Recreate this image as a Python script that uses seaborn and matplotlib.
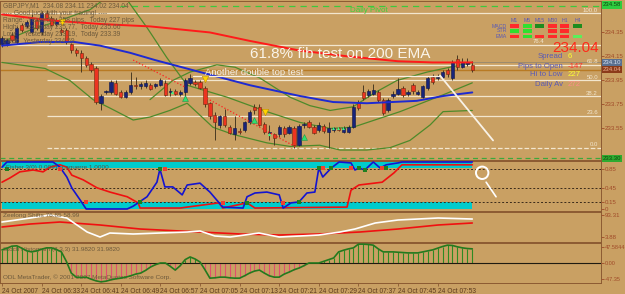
import matplotlib
matplotlib.use("Agg")
import matplotlib.pyplot as plt
import matplotlib.transforms as mtransforms
from matplotlib.patches import Rectangle
import numpy as np
import pandas as pd
import seaborn as sns

# ---------------- data (GBPJPY, M1) ----------------
bar_open = [234.25, 234.25, 234.33, 234.27, 234.41, 234.40, 234.35, 234.45, 234.35, 234.51,
            234.47, 234.42, 234.37, 234.37, 234.25, 234.20, 234.18, 234.14, 234.09, 234.05,
            233.76, 233.85, 233.85, 233.93, 233.85, 233.81, 233.85, 233.91, 233.90, 233.90,
            233.91, 233.90, 233.91, 233.93, 233.85, 233.86, 233.84, 233.85, 233.93, 233.94,
            233.94, 233.89, 233.76, 233.66, 233.58, 233.65, 233.56, 233.50, 233.53, 233.54,
            233.60, 233.73, 233.73, 233.59, 233.51, 233.50, 233.50, 233.55, 233.51, 233.55,
            233.41, 233.58, 233.60, 233.56, 233.54, 233.57, 233.52, 233.54, 233.55, 233.52,
            233.52, 233.56, 233.76, 233.85, 233.83, 233.84, 233.85, 233.79, 233.70, 233.82,
            233.84, 233.89, 233.84, 233.91, 233.84, 233.81, 233.89, 233.98, 233.97, 233.98,
            234.04, 233.97, 234.13, 234.06, 234.09, 234.08]
bar_close = [234.30, 234.29, 234.29, 234.39, 234.37, 234.44, 234.47, 234.39, 234.51, 234.47,
             234.41, 234.45, 234.35, 234.27, 234.20, 234.18, 234.14, 234.08, 234.04, 233.77,
             233.82, 233.86, 233.94, 233.84, 233.81, 233.85, 233.91, 233.90, 233.92, 233.93,
             233.88, 233.92, 233.95, 233.83, 233.86, 233.84, 233.85, 233.95, 233.97, 233.92,
             233.89, 233.75, 233.65, 233.60, 233.65, 233.58, 233.51, 233.55, 233.52, 233.60,
             233.69, 233.70, 233.58, 233.52, 233.52, 233.47, 233.56, 233.50, 233.56, 233.41,
             233.57, 233.59, 233.56, 233.51, 233.58, 233.53, 233.55, 233.55, 233.54, 233.55,
             233.56, 233.73, 233.72, 233.80, 233.86, 233.87, 233.79, 233.68, 233.79, 233.84,
             233.88, 233.83, 233.85, 233.86, 233.85, 233.90, 233.97, 233.94, 233.98, 234.02,
             234.00, 234.10, 234.06, 234.10, 234.10, 234.04]
bar_high = [234.32, 234.30, 234.35, 234.40, 234.43, 234.45, 234.50, 234.47, 234.53, 234.54,
            234.49, 234.47, 234.39, 234.39, 234.26, 234.22, 234.20, 234.15, 234.10, 234.07,
            233.84, 233.87, 233.95, 233.95, 233.87, 233.87, 234.02, 233.98, 233.94, 233.95,
            233.93, 233.93, 233.97, 233.95, 233.89, 233.88, 233.87, 233.97, 234.00, 233.95,
            233.95, 233.90, 233.77, 233.69, 233.66, 233.71, 233.58, 233.65, 233.55, 233.61,
            233.70, 233.75, 233.75, 233.60, 233.58, 233.51, 233.58, 233.57, 233.58, 233.57,
            233.59, 233.60, 233.62, 233.58, 233.60, 233.59, 233.60, 233.56, 233.56, 233.57,
            233.58, 233.75, 233.79, 233.91, 233.88, 233.92, 233.87, 233.80, 233.80, 233.86,
            233.97, 233.90, 233.87, 233.93, 233.87, 233.91, 233.99, 234.00, 234.00, 234.04,
            234.05, 234.12, 234.16, 234.14, 234.14, 234.11]
bar_low = [234.23, 234.24, 234.27, 234.25, 234.35, 234.39, 234.34, 234.37, 234.33, 234.45,
           234.40, 234.40, 234.33, 234.25, 234.18, 234.15, 234.02, 234.06, 234.02, 233.75,
           233.70, 233.84, 233.84, 233.83, 233.80, 233.80, 233.84, 233.88, 233.88, 233.89,
           233.87, 233.89, 233.90, 233.82, 233.82, 233.83, 233.82, 233.82, 233.91, 233.90,
           233.88, 233.73, 233.63, 233.45, 233.55, 233.56, 233.50, 233.45, 233.50, 233.52,
           233.59, 233.67, 233.57, 233.50, 233.45, 233.41, 233.48, 233.48, 233.50, 233.39,
           233.40, 233.55, 233.55, 233.50, 233.52, 233.51, 233.39, 233.52, 233.53, 233.51,
           233.51, 233.55, 233.70, 233.79, 233.81, 233.83, 233.77, 233.66, 233.69, 233.80,
           233.83, 233.81, 233.82, 233.84, 233.83, 233.80, 233.87, 233.92, 233.95, 233.96,
           233.98, 233.95, 234.04, 234.05, 234.07, 234.02]

time_label_bars = [0, 8, 16, 24, 32, 40, 48, 56, 64, 72, 80, 88]
time_labels = ["24 Oct 2007", "24 Oct 06:33", "24 Oct 06:41", "24 Oct 06:49", "24 Oct 06:57",
               "24 Oct 07:05", "24 Oct 07:13", "24 Oct 07:21", "24 Oct 07:29", "24 Oct 07:37",
               "24 Oct 07:45", "24 Oct 07:53"]

# moving averages / envelopes (bar index, price)
ema200_bar = [0, 10, 20, 30, 42, 50, 60, 70, 80, 87, 95]
ema200_val = [234.50, 234.45, 234.42, 234.40, 234.35, 234.28, 234.20, 234.15, 234.11, 234.10, 234.10]
ma_blue_bar = [0, 7.7, 14.7, 19.8, 25.9, 30.9, 40, 50.1, 60.2, 66.9, 73.7, 83.8, 89.1, 95]
ma_blue_val = [234.24, 234.27, 234.27, 234.24, 234.18, 234.12, 234.02, 233.91, 233.82, 233.77,
               233.76, 233.78, 233.82, 233.85]
band_a_bar = [0, 5.7, 11.7, 17.8, 21.4, 25.3, 29.3, 33.3, 37.4, 45.5, 53.5, 60.2, 66.3, 70.9, 80.4, 89.1, 95]
band_a_val = [234.27, 234.37, 234.45, 234.54, 234.65, 234.62, 234.39, 234.14, 233.91, 233.81,
              233.69, 233.60, 233.55, 233.56, 233.69, 233.83, 233.93]
band_b_bar = [29.9, 34.5, 38, 43.4, 47.1, 52.1, 58.2, 62.2, 66.3, 70.9, 75.4, 79.8, 85.9, 95]
band_b_val = [233.79, 233.95, 234.02, 234.08, 234.06, 233.97, 233.81, 233.74, 233.70, 233.73,
              233.85, 233.95, 234.02, 234.10]
band_c_bar = [0, 8.7, 13.7, 18.4, 21.8, 26.5, 29.9, 33.9, 37.4, 40, 42.6, 46.7, 53.5, 58.2,
              64.2, 68.3, 73.7, 78.4, 82.4, 86.5, 89.1, 95]
band_c_val = [234.10, 234.05, 233.95, 233.79, 233.72, 233.62, 233.645, 233.70, 233.76, 233.66,
              233.56, 233.50, 233.43, 233.40, 233.41, 233.37, 233.37, 233.39, 233.45, 233.58,
              233.69, 233.70]

fib_levels = [100.0, 76.4, 61.8, 50.0, 38.2, 23.6, 0.0]
fib_low, fib_high = 233.39, 234.51
daily_pivot = 234.57
support_line = 233.30
ask_price, bid_price = 234.10, 234.04

yellow_arrow_bar = [12.1, 41, 53.1]
yellow_arrow_val = [234.44, 233.96, 233.69]
green_arrow_bar = [37, 50.9, 61]
green_arrow_val = [233.80, 233.62, 233.48]
small_arrow_bar = [34.3, 53.9, 66.9, 67.9, 68.9]
small_arrow_val = [233.85, 233.50, 233.55, 233.55, 233.55]

# Laguerre panel
lag_blue_bar = [0, 1, 10.3, 11.7, 13.1, 14.1, 15.8, 17, 25.3, 26.5, 29.3, 31.3, 31.9, 32.9, 34.5,
                36.4, 37.4, 40, 42, 44.6, 48.7, 49.5, 51.1, 53.5, 56, 56.8, 58.4, 60, 61.6, 63.2,
                64, 64.8, 66.5, 68.1, 70.5, 71.3, 72.1, 73.3, 75, 76.4, 77.6, 80, 80.8, 95]
lag_blue_val = [0.89, 1.0, 1.0, 0.89, 0.68, 0.45, 0.19, 0.0, 0.0, 0.06, 0.26, 0.57, 0.85, 0.47, 0.47,
                0.30, 0.51, 0.55, 0.36, 0.04, 0.02, 0.26, 0.34, 0.36, 0.30, 0.02, 0.13, 0.15, 0.34, 0.36,
                0.87, 0.68, 0.87, 1.0, 0.98, 0.83, 0.87, 0.83, 1.0, 0.87, 0.94, 0.98, 1.0, 1.0]
lag_red_bar = [0, 1.6, 3.6, 6.3, 8.3, 9.7, 11.7, 13.1, 14.1, 16.4, 19.2, 21.8, 25.3, 27.5, 27.9,
               36, 37.4, 43.8, 44.6, 49.5, 51.1, 69.7, 70.5, 72.1, 76.8, 79.2, 80.8, 95]
lag_red_val = [0.57, 0.66, 0.79, 0.83, 0.79, 0.89, 0.94, 0.89, 0.72, 0.62, 0.45, 0.36, 0.26, 0.13, 0.02,
               0.02, 0.04, 0.13, 0.02, 0.13, 0.02, 0.04, 0.40, 0.51, 0.57, 0.77, 0.94, 0.94]
lag_levels = [0.85, 0.45, 0.15]
lag_green_dot_bar = [1, 27.9, 31.9, 49.5, 60, 64, 66.5, 72.1, 73.3, 77.6]
lag_green_dot_val = [0.85, 0.15, 0.85, 0.13, 0.15, 0.87, 0.87, 0.87, 0.83, 0.87]
lag_red_dot_bar = [11.7, 17, 33, 44.6, 56.8, 64.9, 70.5, 76.8]
lag_red_dot_val = [0.85, 0.15, 0.85, 0.13, 0.13, 0.87, 0.87, 0.87]

# Zeelong shifts panel
shift_white_bar = [0, 5.7, 9.7, 13.1, 17.2, 19.8, 21.8, 26.5, 31.9, 37.4, 40, 43, 46.1, 51.9, 56,
                   60.2, 64, 68.3, 71.3, 75.4, 80, 88.1, 95]
shift_white_val = [64.8, 81.1, 93.3, 81.1, 24.2, 3.9, 20.1, 16.1, 20.1, 24.2, 28.3, 8.0, 3.9, 20.1, 3.9,
                   8.0, 12.0, 24.2, 36.4, 60.8, 73.0, 81.1, 77.0]
shift_red_bar = [0, 5.7, 11.7, 19.8, 27.9, 40, 48.1, 56, 64, 72.3, 80, 88.1, 95]
shift_red_val = [44.5, 56.7, 64.8, 52.7, 36.4, 24.2, 16.1, 12.0, 16.1, 24.2, 36.4, 52.7, 60.8]

# Stoch histogram panel
stoch_hist = [39, 44, 50, 51, 44, 36, 33, 36, 41, 45, 45, 40, 33, 5, -30, -42, -43, -42, -48, -53,
              -56, -54, -50, -47, -45, -42, -38, -33, -30, -22, -12, -5, 0, 0, -10, -21, -8, 10, 18, 12,
              3, -20, -45, -44, -42, -42, -44, -45, -45, -38, -30, -24, -21, -30, -38, -42, -42, -33, -27, -20,
              -15, -8, 0, 0, 0, 5, 10, 15, 33, 38, 42, 45, 56, 56, 55, 53, 42, 33, 33, 33,
              32, 31, 30, 30, 30, 33, 36, 39, 44, 49, 53, 52, 48, 45, 43, 42]

header_lines = ["GBPJPY,M1  234.08 234.11 234.02 234.04",
                "---- Good luck with your trading! ----",
                "Range:  Yesterday 258 pips,  Today 227 pips",
                "High:   Yesterday 235.77,  Today 235.66",
                "Low:    Yesterday 233.19,  Today 233.39",
                "Pivot:  Yesterday 234.59"]
info_labels = ["Spread", "Pips to Open", "Hi to Low", "Daily Av"]
info_values = ["6", "-147", "227", "272"]
info_value_colors = ["#FFFF30", "#FF3030", "#FFFF30", "#FF8C8C"]
mtf_frames = ["M1", "M5", "M15", "M30", "H1", "H4"]
mtf_rows = ["MACD", "STR", "EMA"]
mtf_states = [["r", "g", "d", "r", "r", "d"],
              ["g", "g", "", "r", "r", ""],
              ["r", "g", "r", "r", "r", "l"]]

# ---------------- style ----------------
BG = "#C9A063"
sns.set_theme(style="dark", rc={"axes.facecolor": BG, "figure.facecolor": BG,
                                "axes.grid": False, "axes.edgecolor": "#8C5A32"})
plt.rcParams["font.family"] = ["Liberation Sans", "DejaVu Sans"]

W, H = 625, 294
fig = plt.figure(figsize=(6.25, 2.94), dpi=100)
fig.patch.set_facecolor(BG)


def axes_px(top, bottom, left=0, right=601):
    return fig.add_axes([left / W, 1 - bottom / H, (right - left) / W, (bottom - top) / H])


def fx(x):
    return x / W


def fy(y):
    return 1 - y / H


ax1 = axes_px(1, 160)
ax2 = axes_px(161, 211)
ax3 = axes_px(212, 242)
ax4 = axes_px(243, 283)
AXCOL = "#A04A28"
for ax in (ax1, ax2, ax3, ax4):
    ax.set_facecolor(BG)
    ax.set_xlim(-0.4, 121.0)
    ax.grid(False)
    for s in ax.spines.values():
        s.set_color("#8C5A32")
        s.set_linewidth(0.7)
    ax.yaxis.tick_right()
    ax.tick_params(axis="y", length=2, width=0.6, pad=1, labelsize=4.4, colors=AXCOL,
                   labelcolor=AXCOL, left=False, right=True)
    ax.tick_params(axis="x", bottom=False, labelbottom=False)
    ax.set_xlabel("")
    ax.set_ylabel("")

n = len(bar_open)
df = pd.DataFrame({"bar": np.arange(n), "open": bar_open, "high": bar_high,
                   "low": bar_low, "close": bar_close})

# ---------------- main panel ----------------
ax1.set_ylim(233.287, 234.612)
price_ticks = [234.35, 234.15, 233.95, 233.75, 233.55]
ax1.set_yticks(price_ticks)
ax1.set_yticklabels([f"{p:.2f}" for p in price_ticks])

blend1 = mtransforms.blended_transform_factory(ax1.transAxes, ax1.transData)
fib_span = fib_high - fib_low
for lvl in fib_levels:
    p = fib_low + lvl / 100 * fib_span
    start = -0.4 if lvl >= 76 else 9.1
    ax1.hlines(p, start, 121.0, colors="#F2E6CE", linewidth=0.9,
               linestyles="--" if lvl == 0 else "-", zorder=1)
    lab_x = 0.905 if lvl == 76.4 else 0.995
    ax1.text(lab_x, p + 0.004, f"{lvl:.1f}", transform=blend1,
             ha="right", va="bottom", fontsize=4.3, color="#F2E6CE", zorder=2)

ax1.hlines(daily_pivot, 23.8, 121.0, colors="#3CC83C", linewidth=0.9, linestyles=(0, (5, 4)), zorder=1)
ax1.hlines(support_line, -0.4, 121.0, colors="#3CA83C", linewidth=0.9, linestyles=(0, (4, 3)), zorder=1)
ax1.axhline(ask_price, color="#9C8B6E", lw=0.7, zorder=1)
ax1.axhline(bid_price, color="#B87A24", lw=1.0, zorder=1)

# envelopes / bands
for bx, by in ((band_a_bar, band_a_val), (band_b_bar, band_b_val), (band_c_bar, band_c_val)):
    sns.lineplot(x=bx, y=by, ax=ax1, color="#4E8A2A", linewidth=0.9, legend=False, sort=False,
                 estimator=None, zorder=2)

# candles
bull = df["close"] >= df["open"]
body_low = np.minimum(df["open"], df["close"])
body_h = np.maximum((df["close"] - df["open"]).abs(), 0.004)
ax1.vlines(df["bar"], df["low"], df["high"], color="#4A3A22", linewidth=0.7, zorder=3)
ax1.bar(df["bar"], body_h, bottom=body_low, width=0.66,
        color=np.where(bull, "#18247A", "#EC3420"),
        edgecolor=np.where(bull, "#0C1446", "#6E2A10"), linewidth=0.4, zorder=4)

# moving averages
sns.lineplot(x=ema200_bar, y=ema200_val, ax=ax1, color="#FF1A1A", linewidth=1.4, legend=False,
             sort=False, estimator=None, zorder=5)
sns.lineplot(x=ma_blue_bar, y=ma_blue_val, ax=ax1, color="#1E2AD2", linewidth=1.4, legend=False,
             sort=False, estimator=None, zorder=5)

# trendlines / annotations
ax1.plot([26.5, 37], [234.12, 233.895], ls=":", color="#FF2020", lw=0.9, zorder=5)
ax1.plot([41.4, 59.6], [233.80, 233.39], ls=":", color="#FF2020", lw=0.9, zorder=5)
ax1.plot([38.6, 88.5], [233.99, 233.99], color="#F8F2E8", lw=0.9, zorder=5)
ax1.plot([88.5, 99.2], [233.99, 233.45], color="#F8F2E8", lw=1.3, zorder=5)

ax1.scatter(yellow_arrow_bar, yellow_arrow_val, marker="v", s=22, color="#FFD400",
            edgecolors="#B08000", linewidths=0.3, zorder=6)
ax1.scatter(green_arrow_bar, green_arrow_val, marker="^", s=18, color="#30E070",
            edgecolors="#108040", linewidths=0.3, zorder=6)
ax1.scatter(small_arrow_bar, small_arrow_val, marker="^", s=5, color="#40F080", linewidths=0, zorder=6)

# price boxes on the axis
for val, txt, fc, tc in ((234.58, "234.58", "#2ECC40", "#0E4A0E"),
                         (ask_price, "234.10", "#5A7090", "#D8E0F0"),
                         (bid_price, "234.04", "#8B3A1A", "#F0B090"),
                         (support_line, "233.30", "#2EAA30", "#0E4A0E")):
    ax1.text(1.003, val, txt, transform=blend1, ha="left", va="center", fontsize=4.3, color=tc,
             bbox=dict(boxstyle="square,pad=0.2", fc=fc, ec="none"), clip_on=False, zorder=7)

# texts in the main panel
for i, line in enumerate(header_lines):
    fig.text(fx(3), fy(6 + i * 7.2), line, fontsize=4.8, color="#6E5A3C", ha="left", va="center")
fig.text(fx(350), fy(11), "Daily Pivot", fontsize=5.8, color="#3CD23C", ha="left", va="center")
fig.text(fx(250), fy(54), "61.8% fib test on 200 EMA", fontsize=11, color="#FAF4EA",
         ha="left", va="center")
fig.text(fx(205), fy(72), "Another double top test", fontsize=6.8, color="#F4EEE4",
         ha="left", va="center")

fig.text(fx(599), fy(47.5), "234.04", fontsize=11, color="#FF2A1A", ha="right", va="center")
for i, (lab, val, col) in enumerate(zip(info_labels, info_values, info_value_colors)):
    y = 57 + i * 9
    fig.text(fx(563), fy(y), lab, fontsize=5.6, color="#5A5AB4", ha="right", va="center")
    fig.text(fx(568), fy(y), val, fontsize=5.6, color=col, ha="left", va="center")

mtf_x = [514.5, 527, 539.5, 552.5, 564.5, 577.5]
mtf_y = [26, 31, 36]
state_col = {"r": "#FF2A2A", "g": "#2EE02E", "d": "#1E8C1E", "l": "#5AF05A"}
for fr, xx in zip(mtf_frames, mtf_x):
    fig.text(fx(xx), fy(20), fr, fontsize=3.8, color="#5A5AB4", ha="center", va="center")
for r, (rl, yy) in enumerate(zip(mtf_rows, mtf_y)):
    fig.text(fx(507), fy(yy), rl, fontsize=3.8, color="#5A5AB4", ha="right", va="center")
    for c, xx in enumerate(mtf_x):
        st = mtf_states[r][c]
        if st:
            fig.add_artist(Rectangle((fx(xx - 4.5), fy(yy + 1.5)), 9 / W, 3 / H,
                                     transform=fig.transFigure, color=state_col[st], lw=0))

# ---------------- Laguerre panel ----------------
ax2.set_ylim(-0.043, 1.021)
ax2.set_yticks([0.85, 0.45, 0.15, 0])
ax2.set_yticklabels(["0.85", "0.45", "0.15", "0"])
ax2.fill_between([0, 95], 0.87, 1.021, color="#00CCCC", lw=0, zorder=1)
ax2.fill_between([0, 95], -0.01, 0.14, color="#00CCCC", lw=0, zorder=1)
for lv in lag_levels:
    ax2.axhline(lv, color="#3A2A1A", lw=0.7, ls=(0, (2, 2)), zorder=2)
sns.lineplot(x=lag_red_bar, y=lag_red_val, ax=ax2, color="#F01010", linewidth=1.2, legend=False,
             sort=False, estimator=None, zorder=3)
sns.lineplot(x=lag_blue_bar, y=lag_blue_val, ax=ax2, color="#1414D0", linewidth=1.2, legend=False,
             sort=False, estimator=None, zorder=4)
ax2.scatter(lag_green_dot_bar, lag_green_dot_val, marker="s", s=5, color="#208020", zorder=5, linewidths=0)
ax2.scatter(lag_red_dot_bar, lag_red_dot_val, marker="s", s=5, color="#F04030", zorder=5, linewidths=0)
ax2.scatter([97], [0.77], s=80, facecolors="none", edgecolors="white", linewidths=1.4, zorder=6, clip_on=False)
ax2.plot([97.8, 99.8], [0.57, 0.26], color="white", lw=1.2, zorder=6)
ax2.text(0.01, 0.88, "Fisher 3(0) 0.0091, Laguerre 1.0000", transform=ax2.transAxes,
         fontsize=4.6, color="#4A5A50", ha="left", va="center", zorder=7)

# ---------------- Zeelong shifts panel ----------------
ax3.set_ylim(-16.4, 105.5)
ax3.set_yticks([93.31, 3.88])
ax3.set_yticklabels(["93.31", "3.88"])
sns.lineplot(x=shift_red_bar, y=shift_red_val, ax=ax3, color="#F01010", linewidth=1.2, legend=False,
             sort=False, estimator=None)
sns.lineplot(x=shift_white_bar, y=shift_white_val, ax=ax3, color="#FFFFFF", linewidth=1.2, legend=False,
             sort=False, estimator=None)
ax3.text(0.005, 0.87, "Zeelong Shifts 76.85 58.99", transform=ax3.transAxes,
         fontsize=4.6, color="#6E5A3C", ha="left", va="center")

# ---------------- Stoch histogram panel ----------------
ax4.set_ylim(-59.4, 59.4)
ax4.set_yticks([47.5844, 0, -47.35])
ax4.set_yticklabels(["47.5844", "0.00", "-47.35"])
ax4.tick_params(axis="y", labelsize=4.0, pad=0.5)
hist = np.array(stoch_hist, dtype=float)
ax4.vlines(df["bar"], 0, hist, colors=np.where(hist >= 0, "#2E8B22", "#E0506E"), linewidth=0.8, zorder=2)
ax4.axhline(0, color="#1E1A10", lw=0.8, zorder=3)
sns.lineplot(x=df["bar"], y=hist, ax=ax4, color="#237A1E", linewidth=1.2, legend=False,
             sort=False, estimator=None, zorder=4)
ax4.text(0.005, 0.85, "Stoch Histogram (8,3,3) 31.9820 31.9820", transform=ax4.transAxes,
         fontsize=4.6, color="#6E5A3C", ha="left", va="center")
ax4.text(0.005, 0.14, "ODL MetaTrader, \u00a9 2001-2007 MetaQuotes Software Corp.", transform=ax4.transAxes,
         fontsize=4.6, color="#6E5A3C", ha="left", va="center")

ax4.set_xticks(time_label_bars)
ax4.set_xticklabels(time_labels, ha="left")
ax4.tick_params(axis="x", bottom=True, labelbottom=True, length=2, width=0.6, pad=1.5,
                labelsize=4.8, colors="#8C5A32", labelcolor="#5C3A1E")
ax4.set_xlabel("")

fig.savefig("out.png", dpi=100, facecolor=BG)
